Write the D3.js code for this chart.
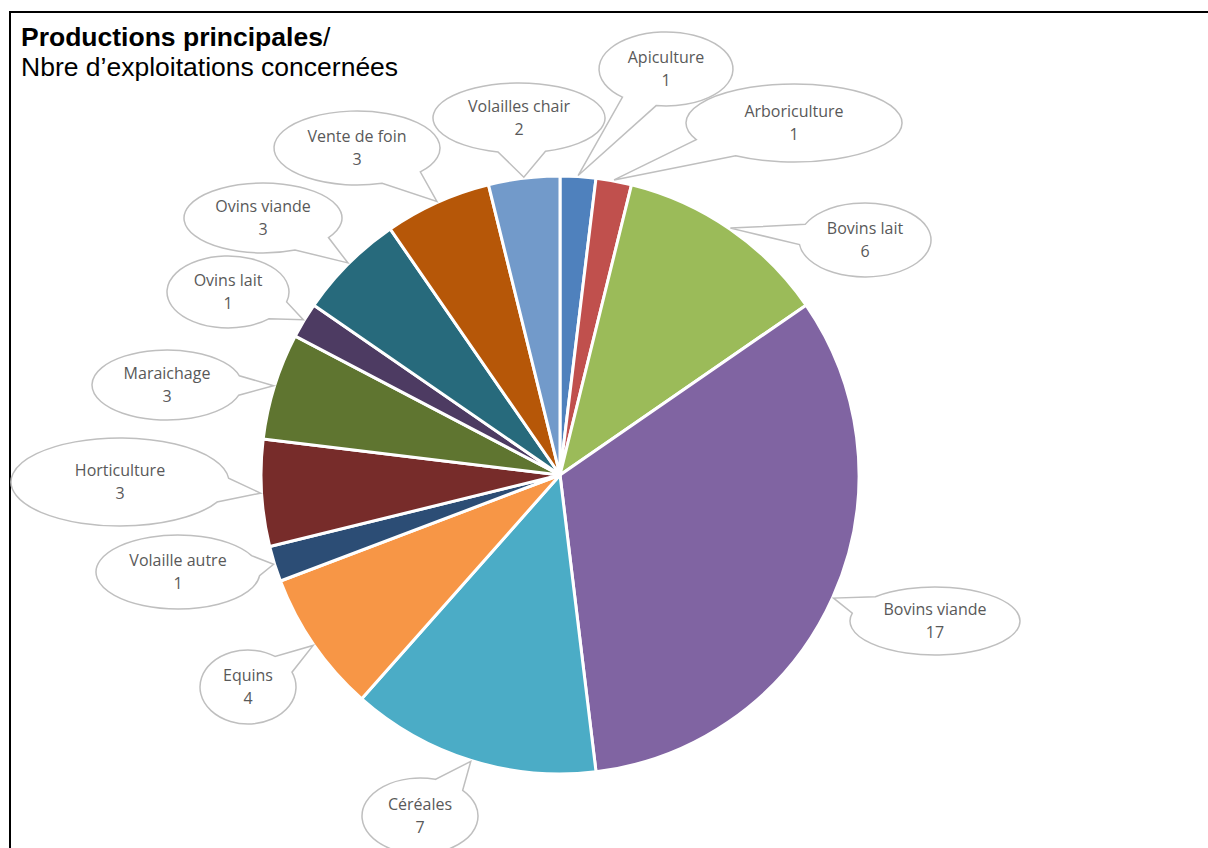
<!DOCTYPE html>
<html>
<head>
<meta charset="utf-8">
<script src="https://cdn.jsdelivr.net/npm/d3@7"></script>
<style>
  body { margin: 0; background: #fff; }
  svg { display: block; }
</style>
</head>
<body>
<svg id="chart" width="1208" height="848"></svg>
<script>
// data, clockwise from 12 o'clock
const categories = ["Apiculture", "Arboriculture", "Bovins lait", "Bovins viande", "Céréales", "Equins",
    "Volaille autre", "Horticulture", "Maraichage", "Ovins lait", "Ovins viande", "Vente de foin", "Volailles chair"];
const counts = [1, 1, 6, 17, 7, 4, 1, 3, 3, 1, 3, 3, 2];
const colors = ["#4F81BD", "#C0504D", "#9BBB59", "#8064A2", "#4BACC6", "#F79646",
    "#2C4D75", "#772C2A", "#5F7530", "#4D3B62", "#276A7C", "#B65708", "#729ACA"];

// callout bubbles: centre and radii
const bubbles = [
    { cx: 666, cy: 69, rx: 67, ry: 37 },
    { cx: 794, cy: 123, rx: 108, ry: 39 },
    { cx: 865, cy: 240, rx: 66, ry: 37 },
    { cx: 935, cy: 621, rx: 85, ry: 34 },
    { cx: 420, cy: 816, rx: 58, ry: 38 },
    { cx: 248, cy: 687, rx: 48, ry: 37 },
    { cx: 178, cy: 572, rx: 82, ry: 37 },
    { cx: 120, cy: 482, rx: 109, ry: 44 },
    { cx: 167, cy: 385, rx: 75, ry: 35 },
    { cx: 228, cy: 292, rx: 61, ry: 36 },
    { cx: 263, cy: 218, rx: 79, ry: 35 },
    { cx: 357, cy: 148, rx: 83, ry: 37 },
    { cx: 519, cy: 118, rx: 86, ry: 35 }
];

const data = categories.map((c, i) => ({ name: c, value: counts[i], color: colors[i], bubble: bubbles[i] }));

const svg = d3.select("#chart");
const cx = 560, cy = 475, radius = 299;

// frame
svg.append("rect")
    .attr("x", 10).attr("y", 12)
    .attr("width", 1220).attr("height", 860)
    .attr("fill", "none").attr("stroke", "#000").attr("stroke-width", 2);

// title
const title = svg.append("text")
    .attr("x", 21).attr("y", 46)
    .style("font-family", "'Liberation Sans', Arial, sans-serif")
    .style("font-size", "26.5px")
    .attr("fill", "#000");
title.append("tspan").style("font-weight", "bold").text("Productions principales");
title.append("tspan").text("/");
svg.append("text")
    .attr("x", 21).attr("y", 76)
    .style("font-family", "'Liberation Sans', Arial, sans-serif")
    .style("font-size", "26.5px")
    .text("Nbre d’exploitations concernées");

const pie = d3.pie().value(d => d.value).sort(null);
const arc = d3.arc().innerRadius(0).outerRadius(radius);
const arcs = pie(data);

const g = svg.append("g").attr("transform", `translate(${cx},${cy})`);
g.selectAll(".slice")
    .data(arcs)
    .join("path")
    .attr("class", "slice")
    .attr("d", arc)
    .attr("fill", d => d.data.color)
    .attr("stroke", "#fff")
    .attr("stroke-width", 3)
    .attr("stroke-linejoin", "round");

// callouts: ellipse with a wedge pointing to the slice edge at mid-angle
function calloutPath(b, tx, ty) {
    const phi = Math.atan2((ty - b.cy) / b.ry, (tx - b.cx) / b.rx);
    const delta = 0.28;
    const p1 = [b.cx + b.rx * Math.cos(phi + delta), b.cy + b.ry * Math.sin(phi + delta)];
    const p2 = [b.cx + b.rx * Math.cos(phi - delta), b.cy + b.ry * Math.sin(phi - delta)];
    return `M${p1[0]},${p1[1]} A${b.rx},${b.ry} 0 1 1 ${p2[0]},${p2[1]} L${tx},${ty} Z`;
}

const labels = svg.append("g");
arcs.forEach(d => {
    const mid = (d.startAngle + d.endAngle) / 2;
    const tx = cx + (radius + 1) * Math.sin(mid);
    const ty = cy - (radius + 1) * Math.cos(mid);
    const b = d.data.bubble;
    const lg = labels.append("g");
    lg.append("path")
        .attr("d", calloutPath(b, tx, ty))
        .attr("fill", "#fff")
        .attr("stroke", "#BFBFBF")
        .attr("stroke-width", 1.5);
    const t = lg.append("text")
        .attr("text-anchor", "middle")
        .style("font-family", "'Open Sans', 'Noto Sans', sans-serif")
        .style("font-size", "16px")
        .attr("fill", "#595959");
    t.append("tspan").attr("x", b.cx).attr("y", b.cy - 6).text(d.data.name);
    t.append("tspan").attr("x", b.cx).attr("y", b.cy + 17).text(d.data.value);
});
</script>
</body>
</html>
